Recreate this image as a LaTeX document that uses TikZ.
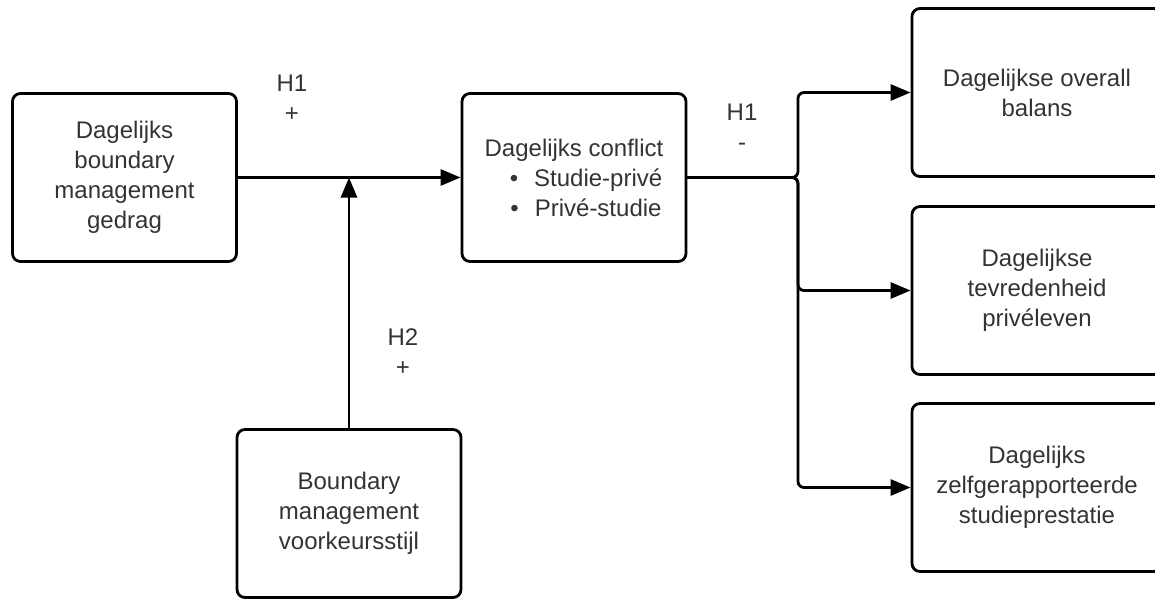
\documentclass[tikz,border=0pt]{standalone}
\usepackage{fontspec}
\setmainfont{Liberation Sans}
\usetikzlibrary{arrows.meta}
\tikzset{
  blok/.style={draw, line width=1.4pt, rounded corners=4pt, minimum width=112pt,
    minimum height=84pt, align=center, text=black!80, font=\fontsize{12}{15}\selectfont},
  pijl/.style={line width=1.4pt, -{Triangle[length=10pt,width=8pt]}},
  hyp/.style={align=center, text=black!80, font=\fontsize{12}{15}\selectfont}
}
\begin{document}
\begin{tikzpicture}[x=0.5pt,y=-0.5pt]
\clip (0,0) rectangle (1155,599);
% linker kant
\node[blok] (gedrag) at (124.5,177.5) {Dagelijks\\boundary\\management\\gedrag};
\node[blok] (conflict) at (574,177.5) {Dagelijks conflict\\
  \hspace*{12pt}\textbullet\hspace{8pt}Studie-privé\\
  \hspace*{12pt}\textbullet\hspace{8pt}Privé-studie};
\node[blok] (stijl) at (349,513.5) {Boundary\\management\\voorkeursstijl};
% uitkomsten
\node[blok, minimum width=125pt] (balans) at (1037,92.5) {Dagelijkse overall\\balans};
\node[blok, minimum width=125pt] (tevreden) at (1037,290.5) {Dagelijkse\\tevredenheid\\privéleven};
\node[blok, minimum width=125pt] (prestatie) at (1037,487.5) {Dagelijks\\zelfgerapporteerde\\studieprestatie};
% hypothesen
\node[hyp] (h1a) at (292,98) {H1\\+};
\node[hyp] (h1b) at (742,127.5) {H1\\-};
\node[hyp] (h2) at (403,352.5) {H2\\+};
% pijlen
\coordinate (mod) at (349,177.5);
\coordinate (split) at (798,177.5);
\draw[pijl] (gedrag.east) -- (conflict.west);
\draw[pijl] (stijl.north) -- (mod);
\draw[pijl, rounded corners=3pt] (conflict.east) -- (split) |- (balans.west);
\draw[pijl, rounded corners=3pt] (conflict.east) -- (split) |- (tevreden.west);
\draw[pijl, rounded corners=3pt] (conflict.east) -- (split) |- (prestatie.west);
\end{tikzpicture}
\end{document}
